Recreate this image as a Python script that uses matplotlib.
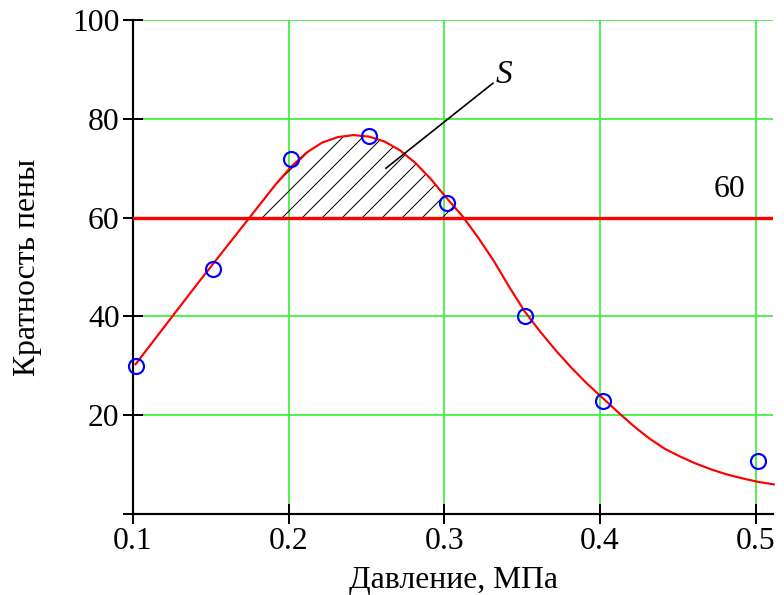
import numpy as np
import matplotlib
matplotlib.use("Agg")
import matplotlib.pyplot as plt
import matplotlib.transforms as mtransforms

plt.rcParams['font.family'] = ['Liberation Serif', 'DejaVu Serif']
plt.rcParams['hatch.linewidth'] = 0.6

# measured points
pressure = [0.10, 0.15, 0.20, 0.25, 0.30, 0.35, 0.40, 0.50]
foam = [30.0, 49.6, 71.8, 76.6, 63.0, 40.0, 22.9, 10.8]

# fitted curve
curve_x = [0.10, 0.11, 0.12, 0.13, 0.14, 0.15, 0.16, 0.17, 0.18, 0.19,
           0.20, 0.21, 0.22, 0.23, 0.24, 0.25, 0.26, 0.27, 0.28, 0.29,
           0.30, 0.31, 0.32, 0.33, 0.34, 0.35, 0.36, 0.37, 0.38, 0.39,
           0.40, 0.41, 0.42, 0.43, 0.44, 0.45, 0.46, 0.47, 0.48, 0.49,
           0.50, 0.51]
curve_y = [30.3, 34.4, 38.5, 42.6, 46.7, 50.7, 54.7, 58.7, 62.7, 66.7,
           70.3, 73.2, 75.2, 76.3, 76.7, 76.4, 75.4, 73.6, 71.0, 67.7,
           63.9, 60.3, 56.0, 51.3, 46.0, 41.0, 36.9, 33.1, 29.6, 26.4,
           23.5, 20.6, 17.8, 15.3, 13.2, 11.6, 10.2, 9.0, 8.0, 7.2,
           6.5, 6.0]

level = 60
area_from, area_to = 0.17, 0.30

fig = plt.figure(figsize=(784 / 120, 595 / 120), dpi=120)
ax = fig.add_axes([133 / 784, 1 - 514 / 595, 640 / 784, 494 / 595])

shift = mtransforms.offset_copy(ax.transData, fig=fig, x=2.5, y=0, units='dots')

cx = np.array(curve_x)
cy = np.array(curve_y)

ax.set_xlim(0.1, 0.5111)
ax.set_ylim(0, 100)
ax.set_xticks([0.1, 0.2, 0.3, 0.4, 0.5])
ax.set_xticklabels(['0.1', '0.2', '0.3', '0.4', '0.5'])
ax.set_yticks([0, 20, 40, 60, 80, 100])
ax.set_yticklabels(['', '20', '40', '60', '80', '100'])
ax.grid(True, color='#44f044', linewidth=1.1)
ax.set_axisbelow(True)

for s in ['top', 'right']:
    ax.spines[s].set_visible(False)
for s in ['left', 'bottom']:
    ax.spines[s].set_linewidth(1.3)
ax.tick_params(direction='inout', length=12, width=1.2, labelsize=19, pad=2)

ax.axhline(level, color='#ff0000', linewidth=2.0, zorder=3)

ax.fill_between(cx, cy, level, where=(cx >= area_from) & (cx <= area_to),
                interpolate=True, facecolor='none', edgecolor='black',
                hatch='//', linewidth=0, transform=shift, zorder=2)

ax.plot(cx, cy, color='#ff0000', linewidth=1.3, transform=shift, zorder=4,
        clip_on=False)
ax.plot(pressure, foam, 'o', markersize=9, markerfacecolor='none',
        markeredgecolor='#0000ff', markeredgewidth=1.3, transform=shift,
        zorder=5, clip_on=False)

ax.plot([0.2625, 0.3312], [70.0, 87.2], color='black', linewidth=1.0, zorder=6)
ax.text(0.338, 89.0, 'S', fontsize=20, style='italic', ha='center', va='center')
ax.text(0.483, 65.6, '60', fontsize=19, ha='center', va='center')

ax.set_xlabel('Давление, МПа', fontsize=19, labelpad=6)
ax.set_ylabel('Кратность пены', fontsize=19, labelpad=18)

fig.savefig('out.png', dpi=120)
